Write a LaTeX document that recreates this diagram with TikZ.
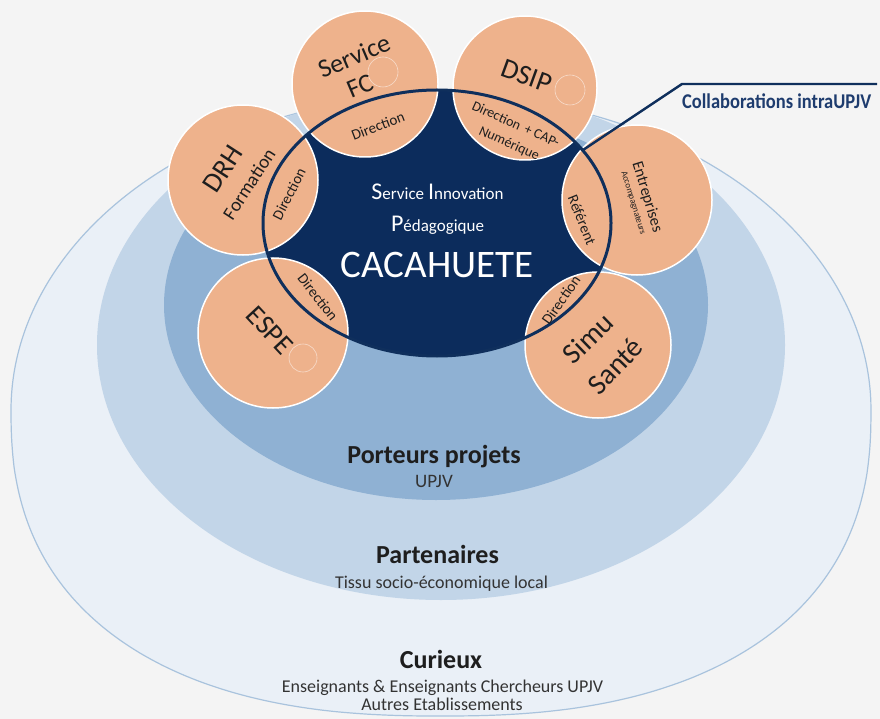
\documentclass[tikz,border=0pt]{standalone}
\usepackage{fontspec}
\setmainfont{Carlito}
\usepackage{graphicx}
\definecolor{bg}{HTML}{F4F4F4}
\definecolor{outerc}{HTML}{EAF0F7}
\definecolor{outerb}{HTML}{A9C3DD}
\definecolor{midc}{HTML}{C2D5E8}
\definecolor{innerc}{HTML}{8FB1D3}
\definecolor{navy}{HTML}{0C2C5C}
\definecolor{navyline}{HTML}{0F2F5C}
\definecolor{peach}{HTML}{EEB28C}
\definecolor{ink}{HTML}{1E1E1E}
\definecolor{inksoft}{HTML}{333333}
\definecolor{collab}{HTML}{1E3C6E}
\newcommand\myfs[1]{\fontsize{#1}{#1}\selectfont}
\begin{document}
\begin{tikzpicture}[x=1pt,y=-1pt,
  lbl/.style={inner sep=0pt, text=ink},
  ctr/.style={inner sep=0pt, anchor=base, text=white},
  bot/.style={inner sep=0pt, anchor=base, text=ink},
  pcircle/.style={circle, fill=peach, draw=white, line width=1.5pt, inner sep=0pt},
  ghost/.style={draw=white, draw opacity=0.55, line width=0.6pt},
  leader/.style={draw=navyline, line width=2.4pt}
  ]
\useasboundingbox[fill=bg] (0,0) rectangle (880,719);
% nested zones
\filldraw[fill=outerc, draw=outerb, line width=1.2pt]
  plot[domain=0.5:360.5, samples=181, variable=\t, smooth]
  ({441+430*cos(\t)*pow(abs(cos(\t)), (sin(\t)>0 ? -0.1667 : 0))},
   {sin(\t)>0 ? 410+306*pow(abs(sin(\t)),0.8333) : 410+315*sin(\t)}) -- cycle;
\fill[midc] (441,345) ellipse [x radius=344, y radius=255];
\fill[innerc] (436,305) ellipse [x radius=272, y radius=195];
\fill[navy] (437,223) ellipse [x radius=174, y radius=133];
% partner circles
\node[pcircle, minimum size=146pt] (fc) at (365,84) {};
\node[pcircle, minimum size=144pt] (dsip) at (525,88) {};
\node[pcircle, minimum size=150pt] (drh) at (243,180) {};
\node[pcircle, minimum size=150pt] (espe) at (273,333) {};
\node[pcircle, minimum size=150pt] (ent) at (637,200) {};
\node[pcircle, minimum size=146pt] (simu) at (598,345) {};
\draw[ghost] (383,72) circle [radius=15];
\draw[ghost] (570,90) circle [radius=15];
\draw[ghost] (303,358) circle [radius=14];
% outline
\draw[navyline, line width=3pt] (437,223) ellipse [x radius=174, y radius=133];
% leader
\coordinate (lstart) at (583,150);
\coordinate (lbend) at (682,84);
\coordinate (lend) at (877,84);
\draw[leader] (lstart) -- (lbend) -- (lend);
\node[anchor=base west, inner sep=0pt, text=collab] (collabtxt) at (682,109)
  {\scalebox{0.88}[1]{\myfs{21}\bfseries Collaborations intraUPJV}};
% circle labels
\node[lbl, rotate=23, font={\myfs{26}}] (tserv) at (354,56) {Service};
\node[lbl, rotate=23, font={\myfs{26}}] (tfc) at (360,86) {FC};
\node[lbl, rotate=21, font={\myfs{15}}] (dfc) at (378,126) {Direction};
\node[lbl, rotate=-20, font={\myfs{28}}] (tdsip) at (527,76) {DSIP};
\node[lbl, rotate=-24, font={\myfs{14}}] (ddsip1) at (516,124) {Direction \,+ CAP-};
\node[lbl, rotate=-24, font={\myfs{14}}] (ddsip2) at (509,144) {Numérique};
\node[lbl, rotate=57, font={\myfs{28}}] (tdrh) at (223,169) {DRH};
\node[lbl, rotate=57, font={\myfs{19}}] (tform) at (249,184) {Formation};
\node[lbl, rotate=63, font={\myfs{15}}] (ddrh) at (289,194) {Direction};
\node[lbl, rotate=-47, font={\myfs{28}}] (tespe) at (270,330) {ESPE};
\node[lbl, rotate=-52, font={\myfs{15}}] (despe) at (318,297) {Direction};
\node[lbl, rotate=-73, font={\myfs{16}}] (tent) at (647,197) {Entreprises};
\node[lbl, rotate=-73, font={\myfs{9}}] (tacc) at (633,203) {Accompagnateurs};
\node[lbl, rotate=-68, font={\myfs{15}}] (dent) at (582,220) {Référent};
\node[lbl, rotate=44, font={\myfs{29}}] (tsimu) at (588,338) {Simu};
\node[lbl, rotate=46, font={\myfs{29}}] (tsante) at (615,366) {Santé};
\node[lbl, rotate=55, font={\myfs{15}}] (dsimu) at (561,300) {Direction};
% centre
\node[ctr] (sip1) at (437.5,200) {{\myfs{24}S}{\myfs{17}ervice }{\myfs{24}I}{\myfs{17}nnovation}};
\node[ctr] (sip2) at (437.5,232) {{\myfs{24}P}{\myfs{17}édagogique}};
\node[ctr, font={\myfs{39}}] (caca) at (437,277) {CACAHUETE};
% zone labels
\node[bot, font={\myfs{26}\bfseries}] (porteurs) at (434,463) {Porteurs projets};
\node[bot, text=inksoft, font={\myfs{19}}] (upjv) at (434,487) {UPJV};
\node[bot, font={\myfs{26}\bfseries}] (part) at (437.5,563) {Partenaires};
\node[bot, text=inksoft, font={\myfs{18}}] (tissu) at (441.5,588) {Tissu socio-économique local};
\node[bot, font={\myfs{26}\bfseries}] (cur) at (441,668) {Curieux};
\node[bot, text=inksoft, font={\myfs{18}}] (ens) at (442.5,692) {Enseignants \& Enseignants Chercheurs UPJV};
\node[bot, text=inksoft, font={\myfs{18}}] (autres) at (442,710) {Autres Etablissements};
\end{tikzpicture}
\end{document}
